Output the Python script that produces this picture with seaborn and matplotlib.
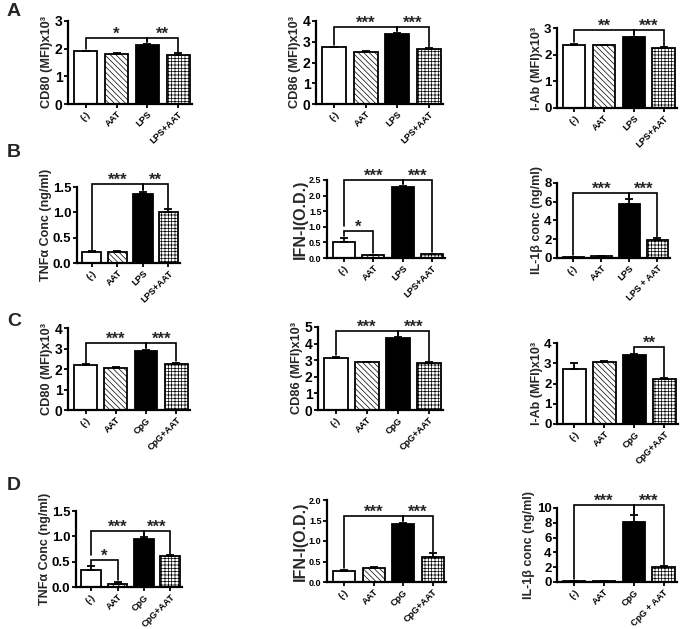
import matplotlib
matplotlib.use("Agg")
import matplotlib.pyplot as plt
import numpy as np
import pandas as pd
import seaborn as sns

sns.set_theme(style="ticks")
plt.rcParams['font.family'] = ['Liberation Sans', 'DejaVu Sans']
plt.rcParams['font.weight'] = 'bold'
plt.rcParams['hatch.linewidth'] = 0.5
plt.rcParams['hatch.color'] = 'black'

# ---------------- data ----------------
cats_lps = ["(-)", "AAT", "LPS", "LPS+AAT"]
cats_lps_sp = ["(-)", "AAT", "LPS", "LPS + AAT"]
cats_cpg = ["(-)", "AAT", "CpG", "CpG+AAT"]
cats_cpg_sp = ["(-)", "AAT", "CpG", "CpG + AAT"]

a_cd80 = [1.90, 1.81, 2.12, 1.77]
a_cd80_err = [0.01, 0.02, 0.05, 0.06]
a_cd86 = [2.74, 2.53, 3.38, 2.63]
a_cd86_err = [0.02, 0.01, 0.04, 0.05]
a_iab = [2.35, 2.36, 2.65, 2.24]
a_iab_err = [0.06, 0.01, 0.03, 0.03]

b_tnf = [0.21, 0.22, 1.37, 1.01]
b_tnf_err = [0.02, 0.01, 0.04, 0.05]
b_ifn = [0.51, 0.10, 2.29, 0.12]
b_ifn_err = [0.14, 0.01, 0.02, 0.02]
b_il1b = [0.13, 0.17, 5.80, 1.87]
b_il1b_err = [0.03, 0.03, 0.45, 0.25]

c_cd80 = [2.19, 2.06, 2.90, 2.22]
c_cd80_err = [0.04, 0.05, 0.05, 0.08]
c_cd86 = [3.12, 2.88, 4.32, 2.85]
c_cd86_err = [0.08, 0.04, 0.06, 0.02]
c_iab = [2.74, 3.04, 3.41, 2.22]
c_iab_err = [0.28, 0.07, 0.04, 0.04]

d_tnf = [0.33, 0.06, 0.94, 0.62]
d_tnf_err = [0.08, 0.04, 0.04, 0.01]
d_ifn = [0.27, 0.35, 1.42, 0.61]
d_ifn_err = [0.03, 0.02, 0.02, 0.09]
d_il1b = [0.17, 0.09, 8.05, 2.00]
d_il1b_err = [0.02, 0.01, 1.00, 0.10]

sig_std = [(0, 2, "***"), (2, 3, "***")]
sig_a1 = [(0, 2, "*"), (2, 3, "**")]
sig_a3 = [(0, 2, "**"), (2, 3, "***")]
sig_b1 = [(0, 2, "***"), (2, 3, "**")]
sig_nested = [(0, 1, "*"), (0, 2, "***"), (2, 3, "***")]
sig_c3 = [(2, 3, "**")]

ylab_cd80 = "CD80 (MFI)x10³"
ylab_cd86 = "CD86 (MFI)x10³"
ylab_iab = "I-Ab (MFI)x10³"
ylab_tnf = "TNFα Conc (ng/ml)"
ylab_ifn = "IFN-I(O.D.)"
ylab_il1b = "IL-1β conc (ng/ml)"

W, H = 682, 629
# layout: (box px (x0,x1,ytop,ybot), cats, vals, errs, sigs, ylabel, yticks, tick fs, label fs, fmt, bracket pad)
panels = [
    ((68, 192, 21, 104), cats_lps, a_cd80, a_cd80_err, sig_a1, ylab_cd80, [0, 1, 2, 3], 10, 9.2, "%d", 0.07),
    ((316, 443, 21, 104), cats_lps, a_cd86, a_cd86_err, sig_std, ylab_cd86, [0, 1, 2, 3, 4], 10, 9.2, "%d", 0.075),
    ((557, 677, 28, 108), cats_lps, a_iab, a_iab_err, sig_a3, ylab_iab, [0, 1, 2, 3], 9.5, 9.0, "%d", 0.085),
    ((77, 180, 187, 263), cats_lps, b_tnf, b_tnf_err, sig_b1, ylab_tnf, [0, 0.5, 1.0, 1.5], 9.5, 9.0, "%.1f", 0.1),
    ((327, 445, 180, 258), cats_lps, b_ifn, b_ifn_err, sig_nested, ylab_ifn, [0, 0.5, 1.0, 1.5, 2.0, 2.5], 6.5, 11.5, "%.1f", 0.08),
    ((557, 670, 183, 258), cats_lps_sp, b_il1b, b_il1b_err, sig_std, ylab_il1b, [0, 2, 4, 6, 8], 9.5, 9.0, "%d", 0.09),
    ((68, 190, 328, 410), cats_cpg, c_cd80, c_cd80_err, sig_std, ylab_cd80, [0, 1, 2, 3, 4], 10, 9.2, "%d", 0.08),
    ((318, 443, 327, 410), cats_cpg, c_cd86, c_cd86_err, sig_std, ylab_cd86, [0, 1, 2, 3, 4, 5], 10, 9.2, "%d", 0.08),
    ((557, 678, 343, 424), cats_cpg, c_iab, c_iab_err, sig_c3, ylab_iab, [0, 1, 2, 3, 4], 9.5, 9.0, "%d", 0.09),
    ((76, 182, 511, 587), cats_cpg, d_tnf, d_tnf_err, sig_nested, ylab_tnf, [0, 0.5, 1.0, 1.5], 9.5, 9.0, "%.1f", 0.08),
    ((327, 446, 500, 582), cats_cpg, d_ifn, d_ifn_err, sig_std, ylab_ifn, [0, 0.5, 1.0, 1.5, 2.0], 6.5, 11.5, "%.1f", 0.09),
    ((557, 677, 508, 582), cats_cpg_sp, d_il1b, d_il1b_err, sig_std, ylab_il1b, [0, 2, 4, 6, 8, 10], 9.5, 9.0, "%d", 0.135),
]

fills = ["white", "white", "black", "white"]
hatches = ["", "\\\\\\\\\\\\", "", "+++++"]

fig = plt.figure(figsize=(W / 100, H / 100), dpi=100)

for box, cats, vals, errs, sigs, ylab, yticks, tickfs, labfs, fmt, padf in panels:
    x0, x1, yt, yb = box
    ax = fig.add_axes([x0 / W, 1 - yb / H, (x1 - x0) / W, (yb - yt) / H])
    df = pd.DataFrame({"cat": cats, "val": vals})
    sns.barplot(data=df, x="cat", y="val", hue="cat", order=cats, hue_order=cats,
                palette=dict(zip(cats, fills)), legend=False, width=0.75,
                edgecolor="black", linewidth=1.3, errorbar=None, ax=ax)
    bars = sorted(ax.patches, key=lambda p: p.get_x())
    for p, h in zip(bars, hatches):
        p.set_hatch(h)
        p.set_edgecolor("black")
    xs = np.arange(len(cats))
    ax.errorbar(xs, vals, yerr=[np.zeros(len(vals)), errs], fmt="none",
                ecolor="black", elinewidth=1.3, capsize=3, capthick=1.3, zorder=1)
    ymax = yticks[-1]
    ax.set_ylim(0, ymax)
    ax.set_xlim(-0.58, 3.45)
    ax.set_yticks(yticks)
    ax.set_yticklabels([fmt % t for t in yticks], fontsize=tickfs, fontweight="bold")
    ax.set_xticks(xs)
    ax.set_xticklabels(cats, rotation=45, ha="right", rotation_mode="anchor",
                       fontsize=6.6, fontweight="bold")
    ax.set_xlabel("")
    ax.set_ylabel(ylab, fontsize=labfs, fontweight="bold", labelpad=1)
    for s in ["top", "right"]:
        ax.spines[s].set_visible(False)
    for s in ["left", "bottom"]:
        ax.spines[s].set_linewidth(1.6)
        ax.spines[s].set_color("black")
    ax.tick_params(axis="both", width=1.3, length=3, pad=1, colors="black")

    # significance brackets
    tops = [v + e for v, e in zip(vals, errs)]
    pad = padf * ymax
    hs = [max(tops[i:j + 1]) + pad for i, j, _ in sigs]
    for (i, j, lab), h in zip(sigs, hs):
        legs = []
        for k in (i, j):
            b = tops[k]
            for (i2, j2, _), h2 in zip(sigs, hs):
                if h2 < h - 1e-9 and i2 <= k <= j2:
                    b = max(b, h2 + 0.05 * ymax)
            legs.append(b + 0.02 * ymax)
        ax.plot([i, i, j, j], [legs[0], h, h, legs[1]], color="black", lw=1.2,
                clip_on=False, solid_joinstyle="miter")
        ax.annotate(lab, ((i + j) / 2, h), xytext=(0, -0.5), textcoords="offset points",
                    ha="center", va="baseline", fontsize=12, fontweight="bold",
                    annotation_clip=False)

for letter, y in [("A", 12), ("B", 152), ("C", 321), ("D", 485)]:
    fig.text(7 / W, 1 - y / H, letter, fontsize=14, fontweight="bold", va="center", ha="left")

fig.savefig("out.png", dpi=100)
